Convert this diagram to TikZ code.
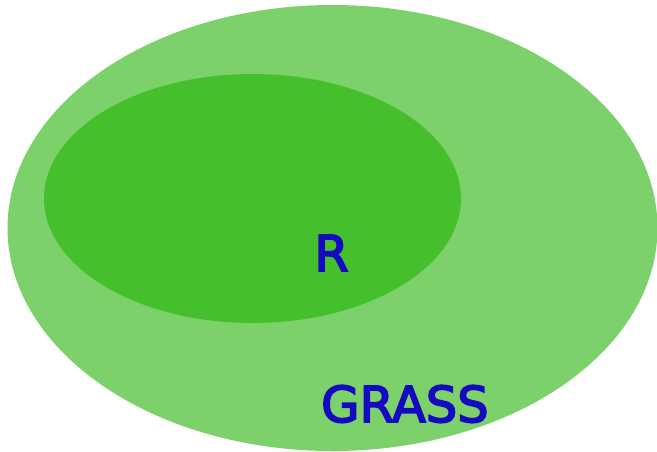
\documentclass[tikz,border=0pt]{standalone}
\usepackage{fontspec}
\setmainfont{DejaVu Sans}
\newfontfamily\lblfont[FakeBold=3.5]{DejaVu Sans}
\definecolor{outerg}{RGB}{125,209,107}
\definecolor{innerg}{RGB}{70,191,45}
\definecolor{txtblue}{RGB}{22,10,192}
\tikzset{lbl/.style={text=txtblue,font=\lblfont\fontsize{49.5}{49.5}\selectfont,inner sep=0pt}}
\begin{document}
\begin{tikzpicture}[x=1pt,y=-1pt]
\useasboundingbox (0,0) rectangle (657,451);
\fill[outerg] (332.5,228) ellipse [x radius=325, y radius=223];
\fill[innerg] (252.5,198.5) ellipse [x radius=208.5, y radius=124.5];
\node[lbl,anchor=base] (r) at (331.5,271) {R};
\node[lbl,anchor=base west] (grass) at (321,422) {GRASS};
\end{tikzpicture}
\end{document}
